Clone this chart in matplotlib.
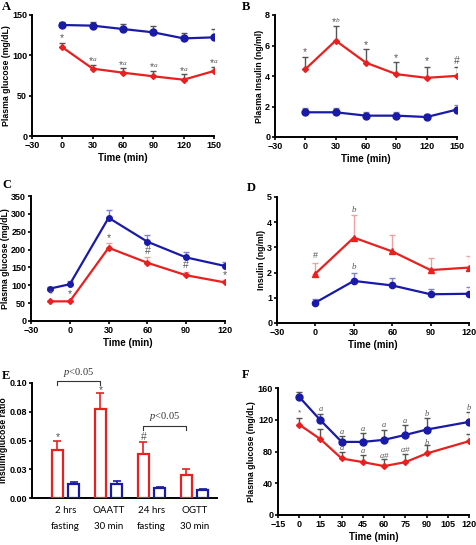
import numpy as np
import matplotlib
matplotlib.use("Agg")
import matplotlib.pyplot as plt

plt.rcParams["font.family"] = ["Liberation Sans", "DejaVu Sans"]
plt.rcParams["mathtext.fontset"] = "custom"
plt.rcParams["mathtext.it"] = "Liberation Serif:italic"

BLUE = "#1a1aa8"
RED = "#e82020"
GREY = "#555555"
PINK = "#f0a0a0"
LBLUE = "#8080d8"

# ---------------- data ----------------
# A: plasma glucose
a_t = [0, 30, 60, 90, 120, 150]
a_blue = [137.6, 136.8, 132.6, 128.5, 121.0, 122.3]
a_blue_err = [4.1, 4.5, 6.4, 7.9, 7.0, 10.3]
a_red = [110.0, 83.5, 78.5, 74.0, 69.8, 80.6]
a_red_err = [5.7, 4.9, 5.4, 6.6, 7.1, 4.9]
a_ann = ["*", "*$^{a}$", "*$^{a}$", "*$^{a}$", "*$^{a}$", "*$^{a}$"]
a_ann_y = [121, 93, 89, 86, 81, 91]

# B: plasma insulin
b_t = [0, 30, 60, 90, 120, 150]
b_red = [4.45, 6.32, 4.87, 4.12, 3.88, 4.01]
b_red_err = [0.81, 0.98, 0.88, 0.77, 0.72, 0.57]
b_blue = [1.62, 1.62, 1.40, 1.40, 1.31, 1.80]
b_blue_err = [0.29, 0.29, 0.22, 0.22, 0.20, 0.30]
b_ann = ["*", "*$^{b}$", "*", "*", "*", "#"]
b_ann_y = [5.6, 7.55, 6.0, 5.15, 4.96, 5.0]

# C: OGTT glucose
c_t = [-15, 0, 30, 60, 90, 120]
c_blue = [91, 103, 289, 222, 178, 154]
c_blue_err = [4, 9, 23, 20, 16, 11]
c_red = [55, 55, 205, 163, 128, 108]
c_red_err = [1, 1, 14, 15, 9, 6]
c_ann = ["*", "*", "*", "#", "#", "*"]
c_ann_y = [75, 75, 233, 196, 156, 128]

# D: insulin
d_t = [0, 30, 60, 90, 120]
d_red = [1.96, 3.39, 2.84, 2.10, 2.20]
d_red_err = [0.43, 0.91, 0.65, 0.49, 0.47]
d_blue = [0.81, 1.67, 1.49, 1.14, 1.16]
d_blue_err = [0.13, 0.30, 0.28, 0.22, 0.28]

# E: insulin/glucose ratio
e_groups = ["2 hrs\nfasting", "OAATT\n30 min", "24 hrs\nfasting", "OGTT\n30 min"]
e_red = [0.0414, 0.0771, 0.0380, 0.0197]
e_red_err = [0.0079, 0.0142, 0.0107, 0.0052]
e_blue = [0.0119, 0.0125, 0.0084, 0.0070]
e_blue_err = [0.0020, 0.0023, 0.0012, 0.0008]
e_ann = ["*", "*", "#", ""]
e_ann_y = [0.053, 0.094, 0.053, 0]

# F: plasma glucose
f_t = [0, 15, 30, 45, 60, 75, 90, 120]
f_blue = [148.7, 119.4, 92.1, 92.1, 94.7, 100.9, 107.6, 117.3]
f_blue_err = [6.7, 7.5, 8.0, 11.8, 12.9, 12.6, 14.7, 13.0]
f_red = [113.9, 95.5, 71.2, 66.6, 61.6, 66.6, 77.5, 93.0]
f_red_err = [8.4, 12.5, 8.4, 9.6, 8.8, 10.4, 10.5, 9.2]
f_blue_ann = ["", "$a$", "$a$", "$a$", "$a$", "$a$", "$b$", "$b$"]
f_blue_ann_y = [0, 133, 104, 108, 113, 119, 128, 136]
f_red_ann = ["*", "", "$a$", "$a$", "$a$#", "$a$#", "$b$", ""]
f_red_ann_y = [129, 0, 85, 81, 75, 82, 92, 0]

fig = plt.figure(figsize=(4.77, 5.45), dpi=100)
W, H = 477.0, 545.0


def axes_px(l, r, t, b):
    return fig.add_axes([l / W, 1 - b / H, (r - l) / W, (b - t) / H])


def style(ax, xlim, xticks, ylim, yticks, ylabel, xlabel="Time (min)"):
    ax.set_xlim(*xlim)
    ax.set_ylim(*ylim)
    ax.set_xticks(xticks)
    ax.set_yticks(yticks)
    for s in ["top", "right"]:
        ax.spines[s].set_visible(False)
    for s in ["left", "bottom"]:
        ax.spines[s].set_linewidth(1.4)
    ax.tick_params(width=1.2, length=2.5, labelsize=6.5, pad=1)
    for lab in ax.get_xticklabels() + ax.get_yticklabels():
        lab.set_fontweight("bold")
    ax.set_ylabel(ylabel, fontsize=6.3, fontweight="bold", labelpad=1)
    if xlabel:
        ax.set_xlabel(xlabel, fontsize=7, fontweight="bold", labelpad=2)


def series(ax, t, y, err, color, marker, ms, ecolor):
    ax.errorbar(t, y, yerr=[np.zeros(len(err)), err], fmt="none",
                ecolor=ecolor, elinewidth=1.0, capsize=2.5, capthick=1.0, zorder=2)
    ax.plot(t, y, color=color, lw=1.6, marker=marker, ms=ms, zorder=3)


def annotate(ax, t, ys, labels, size=7.5):
    for x, y, s in zip(t, ys, labels):
        if s:
            ax.text(x, y, s, ha="center", va="center", fontsize=size, color=GREY)


def letter(x, y, s):
    fig.text(x / W, 1 - y / H, s, fontsize=9, fontweight="bold",
             family="Liberation Serif", ha="left", va="center")


# A
ax = axes_px(32, 214, 15, 136)
series(ax, a_t, a_blue, a_blue_err, BLUE, "o", 5, GREY)
series(ax, a_t, a_red, a_red_err, RED, "D", 3, GREY)
annotate(ax, a_t, a_ann_y, a_ann)
style(ax, (-30, 150), range(-30, 151, 30), (0, 150), [0, 50, 100, 150], "Plasma glucose (mg/dL)")
letter(2, 7, "A")

# B
ax = axes_px(275, 457, 15, 137)
series(ax, b_t, b_red, b_red_err, RED, "D", 3, GREY)
series(ax, b_t, b_blue, b_blue_err, BLUE, "o", 5, "#8888aa")
annotate(ax, b_t, b_ann_y, b_ann)
style(ax, (-30, 150), range(-30, 151, 30), (0, 8), [0, 2, 4, 6, 8], "Plasma Insulin (ng/ml)")
letter(242, 7, "B")

# C
ax = axes_px(31, 225, 196, 321)
series(ax, c_t, c_blue, c_blue_err, BLUE, "o", 4, LBLUE)
series(ax, c_t, c_red, c_red_err, RED, "D", 3, PINK)
annotate(ax, c_t, c_ann_y, c_ann)
style(ax, (-30, 120), range(-30, 121, 30), (0, 350), range(0, 351, 50), "Plasma glucose (mg/dL)")
letter(2, 185, "C")

# D
ax = axes_px(277, 469, 197, 323)
series(ax, d_t, d_red, d_red_err, RED, "^", 4, PINK)
series(ax, d_t, d_blue, d_blue_err, BLUE, "o", 4.5, LBLUE)
annotate(ax, [0, 30, 30], [2.68, 4.54, 2.26], ["#", "$b$", "$b$"], size=6.5)
style(ax, (-30, 120), range(-30, 121, 30), (0, 5), range(0, 6), "Insulin (ng/ml)")
letter(247, 188, "D")

# E
ax = axes_px(32, 217, 383, 498)
x = np.arange(len(e_groups))
off, bw = 0.19, 0.25
ax.bar(x - off, e_red, bw, fill=False, edgecolor=RED, lw=1.6, zorder=3)
ax.bar(x + off, e_blue, bw, fill=False, edgecolor=BLUE, lw=1.6, zorder=3)
ax.errorbar(x - off, e_red, yerr=[np.zeros(4), e_red_err], fmt="none", ecolor=RED,
            elinewidth=1.2, capsize=3, capthick=1.2)
ax.errorbar(x + off, e_blue, yerr=[np.zeros(4), e_blue_err], fmt="none", ecolor=BLUE,
            elinewidth=1.2, capsize=3, capthick=1.2)
annotate(ax, x - off, e_ann_y, e_ann)
style(ax, (-0.78, 3.52), x, (0, 0.1), [0, 0.025, 0.05, 0.075, 0.1],
      "Insulin/glucose ratio", xlabel=None)
ax.set_yticklabels(["0.00", "0.03", "0.05", "0.08", "0.10"], fontweight="bold")
ax.set_xticklabels(e_groups, fontsize=7, fontweight="normal", family="Lato", linespacing=2.0)
ax.tick_params(axis="x", length=0, pad=6)
for (i, j, yb, yt) in [(0, 1, 0.098, 0.1015), (2, 3, 0.0595, 0.063)]:
    ax.plot([x[i] - off, x[i] - off, x[j] - off, x[j] - off], [yb, yt, yt, yb],
            color="#333333", lw=0.8, clip_on=False)
    ax.text((x[i] + x[j]) / 2 - off, yt + 0.002, "$p$<0.05", ha="center", va="bottom",
            fontsize=7.5, family="Liberation Serif", color="#333333")
letter(2, 376, "E")

# F
ax = axes_px(278, 469, 388, 515)
series(ax, f_t, f_blue, f_blue_err, BLUE, "o", 5, GREY)
series(ax, f_t, f_red, f_red_err, RED, "D", 3, GREY)
annotate(ax, f_t, f_blue_ann_y, f_blue_ann, size=6)
annotate(ax, f_t, f_red_ann_y, f_red_ann, size=6)
style(ax, (-15, 120), range(-15, 121, 15), (0, 160), range(0, 161, 40), "Plasma glucose (mg/dL)")
letter(242, 375, "F")

fig.savefig("out.png", dpi=100)
